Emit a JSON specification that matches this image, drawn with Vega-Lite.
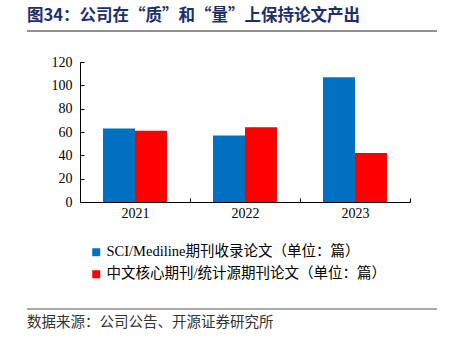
{
  "$schema": "https://vega.github.io/schema/vega-lite/v6.json",
  "width": 410,
  "height": 278,
  "autosize": {"type": "none"},
  "padding": {"left": 27, "top": 31, "right": 15, "bottom": 32},
  "background": "white",
  "title": {
    "text": "图34：公司在“质”和“量”上保持论文产出",
    "anchor": "start",
    "frame": "group",
    "offset": 6,
    "fontSize": 16.5,
    "font": "Noto Sans CJK SC",
    "fontWeight": "bold",
    "color": "#1c2f6b"
  },
  "config": {"view": {"stroke": null}},
  "data": {
    "values": [
      {"year": "2021", "series": "SCI/Mediline期刊收录论文（单位：篇）", "value": 63},
      {"year": "2021", "series": "中文核心期刊/统计源期刊论文（单位：篇）", "value": 61},
      {"year": "2022", "series": "SCI/Mediline期刊收录论文（单位：篇）", "value": 57},
      {"year": "2022", "series": "中文核心期刊/统计源期刊论文（单位：篇）", "value": 64},
      {"year": "2023", "series": "SCI/Mediline期刊收录论文（单位：篇）", "value": 107},
      {"year": "2023", "series": "中文核心期刊/统计源期刊论文（单位：篇）", "value": 42}
    ]
  },
  "resolve": {"scale": {"x": "independent", "y": "independent"}},
  "layer": [
    {
      "mark": {"type": "bar"},
      "encoding": {
        "x": {
          "field": "year",
          "type": "nominal",
          "scale": {"range": [53, 383], "paddingInner": 0, "paddingOuter": 0},
          "axis": {
            "title": null,
            "labelAngle": 0,
            "offset": -107,
            "tickBand": "extent",
            "tickSize": -4,
            "tickColor": "#000",
            "domainColor": "#000",
            "labelFont": "Liberation Serif",
            "labelFontSize": 14,
            "labelColor": "#000",
            "labelPadding": 8
          }
        },
        "xOffset": {
          "field": "series",
          "type": "nominal",
          "scale": {
            "domain": ["SCI/Mediline期刊收录论文（单位：篇）", "中文核心期刊/统计源期刊论文（单位：篇）"],
            "paddingInner": 0,
            "paddingOuter": 0.72
          }
        },
        "y": {
          "field": "value",
          "type": "quantitative",
          "scale": {"domain": [0, 120], "range": [171, 31]},
          "axis": {
            "title": null,
            "values": [0, 20, 40, 60, 80, 100, 120],
            "grid": false,
            "offset": -53,
            "tickSize": -4,
            "tickColor": "#000",
            "domainColor": "#000",
            "labelFont": "Liberation Serif",
            "labelFontSize": 14,
            "labelColor": "#000",
            "labelPadding": 12
          }
        },
        "color": {
          "field": "series",
          "type": "nominal",
          "scale": {
            "domain": ["SCI/Mediline期刊收录论文（单位：篇）", "中文核心期刊/统计源期刊论文（单位：篇）"],
            "range": ["#0070C0", "#FF0000"]
          },
          "legend": {
            "title": null,
            "orient": "none",
            "direction": "vertical",
            "legendX": 62,
            "legendY": 214,
            "padding": 0,
            "symbolType": "square",
            "symbolSize": 64,
            "symbolStrokeWidth": 0,
            "labelOffset": 3,
            "rowPadding": 7,
            "labelFont": "'Liberation Serif', 'Noto Sans CJK SC'",
            "labelFontSize": 14.5,
            "labelColor": "#000",
            "labelLimit": 400
          }
        }
      }
    },
    {
      "data": {"values": [{}]},
      "mark": {"type": "rule", "color": "#222222", "strokeWidth": 1},
      "encoding": {
        "y": {"datum": 0, "type": "quantitative", "scale": {"domain": [0, 1], "range": [0, 278]}, "axis": null}
      }
    },
    {
      "data": {"values": [{}]},
      "mark": {"type": "rule", "color": "#8c8c8c", "strokeWidth": 1.5},
      "encoding": {
        "y": {"datum": 1, "type": "quantitative", "scale": {"domain": [0, 1], "range": [0, 278]}, "axis": null}
      }
    },
    {
      "data": {"values": [{}]},
      "mark": {"type": "text", "align": "left", "baseline": "middle", "dy": 14, "fontSize": 14.5, "font": "Noto Sans CJK SC", "color": "#333333"},
      "encoding": {
        "x": {"datum": 0, "type": "quantitative", "scale": {"domain": [0, 1], "range": [0, 410]}, "axis": null},
        "y": {"datum": 1, "type": "quantitative", "scale": {"domain": [0, 1], "range": [0, 278]}, "axis": null},
        "text": {"value": "数据来源：公司公告、开源证券研究所"}
      }
    }
  ]
}
